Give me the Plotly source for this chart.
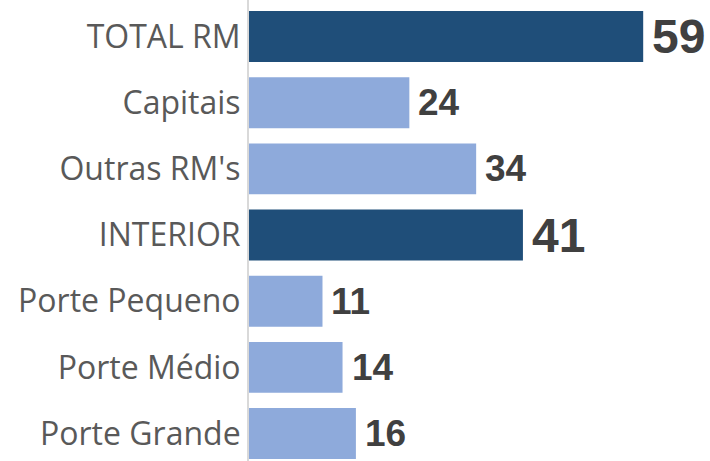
import plotly.graph_objects as go

# Data
categories = ["TOTAL RM", "Capitais", "Outras RM's", "INTERIOR",
              "Porte Pequeno", "Porte Médio", "Porte Grande"]
values = [59, 24, 34, 41, 11, 14, 16]
is_total = [True, False, False, True, False, False, False]

dark_blue = "#1F4E79"
light_blue = "#8EAADB"

bar_colors = [dark_blue if t else light_blue for t in is_total]

fig = go.Figure(
    go.Bar(
        x=values,
        y=categories,
        orientation="h",
        width=0.77,
        marker=dict(color=bar_colors, line=dict(width=0)),
        hoverinfo="x+y",
    )
)

# value labels just right of each bar
for cat, v, t in zip(categories, values, is_total):
    fig.add_annotation(
        x=v, y=cat, text=str(v), showarrow=False,
        xanchor="left", yanchor="middle", xshift=7,
        font=dict(family="Liberation Sans, Arial", size=48 if t else 37,
                  color="#404040", weight="bold"),
    )

fig.update_layout(
    width=710,
    height=461,
    margin=dict(l=249, r=0, t=0, b=0),
    plot_bgcolor="white",
    paper_bgcolor="white",
    showlegend=False,
    xaxis=dict(range=[0, 69], showgrid=False, zeroline=False,
               showticklabels=False, showline=False, automargin=False),
    yaxis=dict(
        range=[6.415, -0.552],
        showgrid=False,
        zeroline=False,
        showline=True,
        linecolor="#D9D9D9",
        linewidth=2,
        ticks="",
        automargin=False,
        ticklabelstandoff=0,
        tickfont=dict(family="Open Sans, Segoe UI, sans-serif", size=32,
                      color="#595959"),
    ),
)

# page body has a default margin; remove it so the figure sits at 0,0
fig.write_html("out.html", config={"displayModeBar": False},
               post_script="document.body.style.margin='0px';")
